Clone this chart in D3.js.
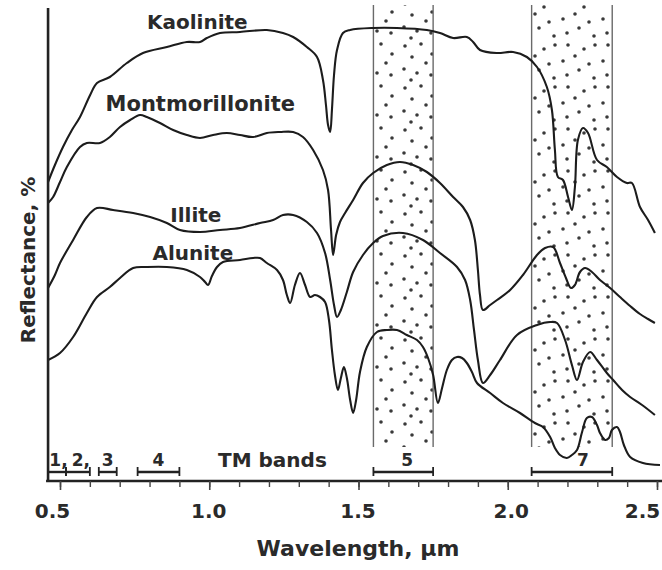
<!DOCTYPE html>
<html><head><meta charset="utf-8">
<script src="https://cdn.jsdelivr.net/npm/d3@7"></script>
<style>
html,body{margin:0;padding:0;background:#fff;}
svg{display:block;}
text{font-family:"DejaVu Sans",sans-serif;font-weight:bold;fill:#2a2a2a;}
</style></head>
<body><svg id="c" width="662" height="570"></svg>
<script>
// ---- data (wavelength µm, relative reflectance) ----
const kaolinite = [[0.460,59.8],[0.483,63.2],[0.510,66.8],[0.540,70.2],[0.567,72.8],[0.601,77.2],[0.624,79.6],[0.667,80.8],[0.724,83.6],[0.778,85.6],[0.858,86.8],[0.925,87.8],[0.969,87.8],[0.992,88.6],[1.036,89.6],[1.103,89.8],[1.193,90.2],[1.247,89.6],[1.281,88.8],[1.327,86.8],[1.361,84.8],[1.381,80.2],[1.391,75.2],[1.398,71.2],[1.405,69.8],[1.411,74.2],[1.418,81.2],[1.428,86.2],[1.448,89.6],[1.472,90.2],[1.549,90.6],[1.629,90.6],[1.729,90.2],[1.773,89.6],[1.817,88.6],[1.863,88.8],[1.884,87.8],[1.907,86.2],[1.964,85.6],[2.018,85.8],[2.064,84.8],[2.098,82.8],[2.131,78.8],[2.148,74.2],[2.158,66.2],[2.168,60.8],[2.185,60.2],[2.202,56.8],[2.215,54.2],[2.225,58.8],[2.235,68.2],[2.252,70.6],[2.269,69.6],[2.299,64.2],[2.332,62.8],[2.366,60.8],[2.399,59.6],[2.416,59.6],[2.443,54.8],[2.470,52.2],[2.493,49.6]];
const montmorillonite = [[0.460,55.6],[0.477,56.8],[0.500,59.8],[0.523,62.8],[0.567,66.8],[0.590,67.6],[0.634,67.6],[0.667,68.8],[0.701,70.8],[0.735,72.2],[0.768,73.2],[0.791,72.8],[0.835,71.6],[0.879,70.2],[0.925,69.2],[0.969,68.6],[1.013,69.2],[1.059,69.6],[1.103,69.2],[1.147,68.8],[1.193,69.6],[1.237,69.8],[1.281,69.8],[1.314,68.8],[1.348,66.2],[1.381,62.2],[1.398,58.2],[1.408,50.2],[1.415,45.2],[1.425,49.2],[1.438,51.8],[1.455,53.6],[1.482,56.2],[1.515,59.6],[1.549,61.6],[1.595,63.2],[1.639,63.8],[1.683,63.2],[1.729,61.8],[1.773,59.6],[1.817,56.8],[1.850,54.8],[1.874,52.2],[1.890,48.2],[1.900,42.2],[1.907,37.2],[1.917,34.2],[1.941,35.2],[1.964,36.2],[2.008,38.2],[2.051,41.2],[2.098,45.2],[2.125,46.6],[2.152,46.8],[2.175,43.6],[2.195,40.6],[2.212,38.6],[2.225,39.2],[2.242,41.8],[2.259,42.6],[2.282,41.8],[2.309,40.2],[2.343,38.6],[2.376,36.8],[2.410,35.0],[2.443,33.4],[2.470,32.4],[2.493,31.6]];
const illite = [[0.460,38.6],[0.483,41.2],[0.500,43.6],[0.544,48.2],[0.590,52.8],[0.624,54.6],[0.678,54.2],[0.745,53.6],[0.802,52.8],[0.858,51.6],[0.902,50.2],[0.969,49.8],[1.036,50.2],[1.103,50.6],[1.170,51.6],[1.214,52.2],[1.247,53.2],[1.281,53.2],[1.327,51.8],[1.361,49.6],[1.388,45.6],[1.405,40.2],[1.418,35.2],[1.428,32.8],[1.441,34.2],[1.461,37.8],[1.482,41.8],[1.515,45.2],[1.549,47.6],[1.582,49.0],[1.649,49.6],[1.716,48.2],[1.773,45.6],[1.830,42.8],[1.857,40.2],[1.874,36.2],[1.887,30.2],[1.900,24.2],[1.917,19.6],[1.941,21.2],[1.974,24.2],[2.031,29.2],[2.098,31.2],[2.142,31.8],[2.165,31.6],[2.192,28.2],[2.215,23.2],[2.232,20.2],[2.252,23.8],[2.276,25.8],[2.299,24.2],[2.332,21.6],[2.353,20.2],[2.383,18.2],[2.410,16.8],[2.450,15.2],[2.493,13.2]];
const alunite = [[0.460,24.2],[0.500,25.6],[0.544,28.8],[0.590,33.6],[0.624,36.8],[0.667,38.8],[0.701,40.6],[0.745,42.6],[0.791,42.8],[0.858,42.8],[0.925,42.2],[0.969,40.8],[0.986,39.8],[0.996,39.2],[1.009,41.0],[1.026,42.8],[1.046,43.8],[1.103,44.2],[1.147,44.6],[1.170,44.6],[1.193,43.6],[1.227,42.2],[1.247,40.2],[1.260,37.2],[1.271,35.6],[1.287,39.2],[1.304,41.6],[1.321,39.2],[1.338,36.8],[1.354,37.2],[1.371,36.8],[1.388,35.8],[1.401,32.2],[1.411,26.2],[1.421,21.2],[1.431,18.2],[1.441,20.6],[1.451,22.8],[1.461,20.6],[1.472,16.2],[1.482,13.6],[1.492,16.2],[1.505,21.8],[1.528,26.8],[1.562,29.8],[1.595,30.2],[1.629,30.2],[1.662,29.2],[1.696,28.2],[1.716,26.8],[1.733,24.6],[1.750,21.2],[1.766,15.6],[1.780,18.6],[1.796,22.2],[1.813,24.2],[1.830,24.8],[1.847,24.6],[1.863,23.6],[1.880,21.8],[1.897,19.6],[1.941,17.6],[1.984,15.6],[2.041,13.6],[2.091,11.6],[2.118,10.8],[2.142,8.8],[2.158,6.6],[2.175,5.2],[2.198,4.6],[2.215,5.2],[2.232,6.2],[2.249,9.8],[2.265,12.6],[2.282,12.8],[2.299,11.2],[2.309,9.6],[2.326,8.2],[2.339,8.6],[2.349,10.2],[2.366,10.8],[2.376,9.8],[2.389,7.2],[2.410,4.8],[2.453,3.6],[2.510,3.2]];

const mineralNames = ["Kaolinite","Montmorillonite","Illite","Alunite"];
const labelWavelength = [0.960, 0.970, 0.955, 0.945];
const labelValue = [90.4, 74.0, 51.8, 44.2];

const bandLabels = ["1,","2,","3","4","5","7"];
const bandStart = [0.45, 0.52, 0.63, 0.76, 1.55, 2.08];
const bandEnd   = [0.52, 0.60, 0.69, 0.90, 1.75, 2.35];
const shadedBands = [[1.55,1.75],[2.08,2.35]];

const minorTicks = d3.range(5, 26).map(d => d / 10);
const majorTicks = [0.5, 1.0, 1.5, 2.0, 2.5];
const tickLabels = ["0.5","1.0","1.5","2.0","2.5"];

// ---- chart ----
const svg = d3.select("#c");
const x = d3.scaleLinear().domain([0.5, 2.5]).range([60, 657]);
const y = d3.scaleLinear().domain([0, 94]).range([481, 11]);
const axisY = 481, axisX = x(0.46);

// stipple pattern (irregular dot texture)
const defs = svg.append("defs");
const dotSets = [
  [[5,4],[21,2],[32,12],[12,15],[26,21],[4,27],[17,31],[31,33],[11,38]],
  [[8,3],[24,7],[35,3],[15,14],[3,19],[29,22],[19,28],[7,33],[34,36]]
];
dotSets.forEach((set,k)=>{
  const pat = defs.append("pattern").attr("id","stip"+k).attr("patternUnits","userSpaceOnUse")
    .attr("width",40).attr("height",42);
  set.forEach(p=>pat.append("circle").attr("cx",p[0]).attr("cy",p[1]).attr("r",1.8).attr("fill","#3a3a3a"));
});

const bandsG = svg.append("g");
shadedBands.forEach((b,k)=>{
  bandsG.append("rect").attr("x",x(b[0])).attr("y",5).attr("width",x(b[1])-x(b[0])).attr("height",442)
    .attr("fill",`url(#stip${k})`);
  [b[0],b[1]].forEach(v=>bandsG.append("line").attr("x1",x(v)).attr("x2",x(v)).attr("y1",5).attr("y2",447)
    .attr("stroke","#6a6a6a").attr("stroke-width",1.4));
});

// curves
const line = d3.line().x(d=>x(d[0])).y(d=>y(d[1])).curve(d3.curveCatmullRom.alpha(0.5));
[kaolinite, montmorillonite, illite, alunite].forEach(s=>{
  svg.append("path").attr("d",line(s)).attr("fill","none").attr("stroke","#1c1c1c")
    .attr("stroke-width",2.1).attr("stroke-linejoin","round");
});

// curve labels
mineralNames.forEach((n,i)=>{
  svg.append("text").attr("x",x(labelWavelength[i])).attr("y",y(labelValue[i]))
    .attr("text-anchor","middle").attr("font-size", i===1?21:20).text(n);
});

// axes lines
svg.append("line").attr("x1",axisX).attr("x2",axisX).attr("y1",8).attr("y2",axisY+1)
  .attr("stroke","#222").attr("stroke-width",2.6);
svg.append("line").attr("x1",axisX-2).attr("x2",662).attr("y1",axisY).attr("y2",axisY)
  .attr("stroke","#222").attr("stroke-width",2.6);

// ticks
const minorAxis = d3.axisBottom(x).tickValues(minorTicks).tickSize(6).tickFormat("");
const gMinor = svg.append("g").attr("transform",`translate(0,${axisY})`).call(minorAxis);
gMinor.select(".domain").remove();
gMinor.selectAll(".tick line").attr("stroke","#444").attr("stroke-width",1.4);

const majorAxis = d3.axisBottom(x).tickValues(majorTicks).tickSize(9).tickPadding(12)
  .tickFormat((d,i)=>tickLabels[i]);
const gMajor = svg.append("g").attr("transform",`translate(0,${axisY})`).call(majorAxis);
gMajor.select(".domain").remove();
gMajor.selectAll(".tick line").attr("stroke","#444").attr("stroke-width",1.6);
gMajor.selectAll(".tick text").attr("font-family","DejaVu Sans, sans-serif").attr("font-weight","bold")
  .attr("font-size",20).attr("fill","#2a2a2a").attr("dy",null).attr("y",37)
  .attr("dx",(d,i)=> i===0?-8 : (i===4?-15:(i===3?3:-1)));

// TM band bars
const barY = 472;
bandLabels.forEach((lab,i)=>{
  const x0 = Math.max(x(bandStart[i]), axisX), x1 = x(bandEnd[i]);
  const g = svg.append("g");
  g.append("line").attr("x1",x0).attr("x2",x1).attr("y1",barY).attr("y2",barY).attr("stroke","#222").attr("stroke-width",2.4);
  [x0,x1].forEach(xx=>g.append("line").attr("x1",xx).attr("x2",xx).attr("y1",barY-5).attr("y2",barY+4).attr("stroke","#222").attr("stroke-width",1.8));
  const cx = (x(bandStart[i])+x(bandEnd[i]))/2 + (i<2?3:0) + (i===5?11:0) + (i===4?4:0);
  g.append("text").attr("x",cx).attr("y",466).attr("text-anchor","middle").attr("font-size",17).text(lab);
});
svg.append("text").attr("x",218).attr("y",467).attr("font-size",20).text("TM bands");

// axis titles
svg.append("text").attr("x",358).attr("y",556).attr("text-anchor","middle").attr("font-size",22).text("Wavelength, µm");
svg.append("text").attr("transform","translate(35,260) rotate(-90)").attr("text-anchor","middle").attr("font-size",20).text("Reflectance, %");
</script></body></html>
